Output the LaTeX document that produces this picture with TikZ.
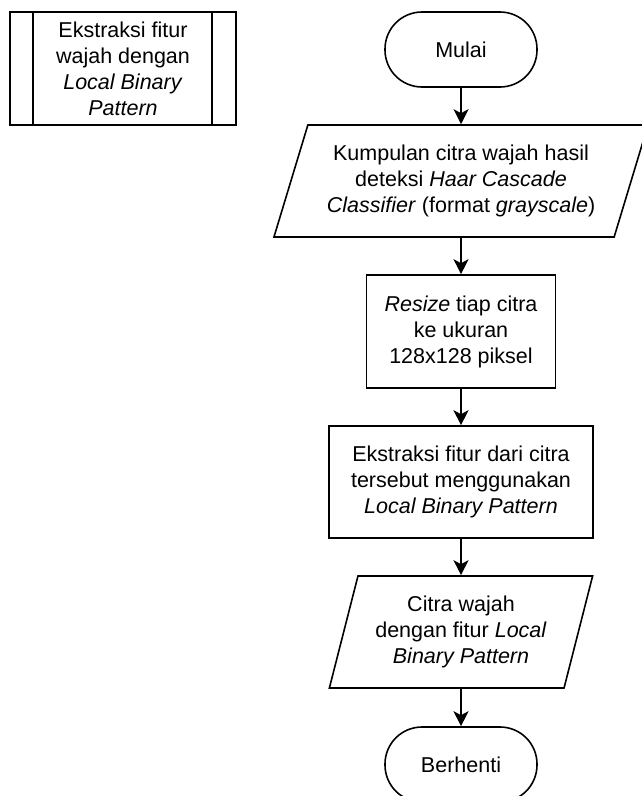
\documentclass[tikz,border=0pt]{standalone}
\usepackage{fontspec}
\setmainfont{Liberation Sans}
\usetikzlibrary{shapes.geometric}
\usetikzlibrary{calc}
\usetikzlibrary{positioning, arrows.meta}

\tikzset{
    terminator/.style={draw=black, line width=1.6pt, rectangle, rounded corners=37pt, minimum width=152pt, minimum height=75pt, align=center},
    proses/.style={draw=black, line width=1.6pt, rectangle, align=center},
    inputoutput/.style={draw=black, line width=1.6pt, trapezium, trapezium stretches=true, minimum height=112pt, inner sep=1pt, align=center},
    panah/.style={line width=1.6pt, -{Stealth[length=15pt, width=15pt, inset=4pt]}}
}

\begin{document}
\begin{tikzpicture}[x=1pt, y=-1pt, font=\fontsize{21.5}{26}\selectfont]
    \useasboundingbox (0,0) rectangle (641,796);

    % subproses
    \node[proses, minimum width=226pt, minimum height=113pt] (subproses) at (123,68.5) {Ekstraksi fitur\\wajah dengan\\\textit{Local Binary}\\\textit{Pattern}};
    \draw[line width=1.6pt] ($(subproses.north west)+(24,0)$) -- ($(subproses.south west)+(24,0)$);
    \draw[line width=1.6pt] ($(subproses.north east)+(-25,0)$) -- ($(subproses.south east)+(-25,0)$);

    % alur utama
    \node[terminator] (mulai) at (461,49.5) {Mulai};
    \node[inputoutput, trapezium left angle=68, trapezium right angle=112, minimum width=375pt] (kumpulan) at (461,181) {Kumpulan citra wajah hasil\\deteksi \textit{Haar Cascade}\\\textit{Classifier} (format \textit{grayscale})};
    \node[proses, minimum width=189pt, minimum height=113pt] (resize) at (461,331.5) {\textit{Resize} tiap citra\\ke ukuran\\128x128 piksel};
    \node[proses, minimum width=264pt, minimum height=112pt] (ekstraksi) at (461,482) {Ekstraksi fitur dari citra\\tersebut menggunakan\\\textit{Local Binary Pattern}};
    \node[inputoutput, trapezium left angle=72, trapezium right angle=108, minimum width=264pt] (hasil) at (461,632) {Citra wajah\\dengan fitur \textit{Local}\\\textit{Binary Pattern}};
    \node[terminator] (berhenti) at (461,764.5) {Berhenti};

    \draw[panah] (mulai) -- (kumpulan);
    \draw[panah] (kumpulan) -- (resize);
    \draw[panah] (resize) -- (ekstraksi);
    \draw[panah] (ekstraksi) -- (hasil);
    \draw[panah] (hasil) -- (berhenti);
\end{tikzpicture}
\end{document}
